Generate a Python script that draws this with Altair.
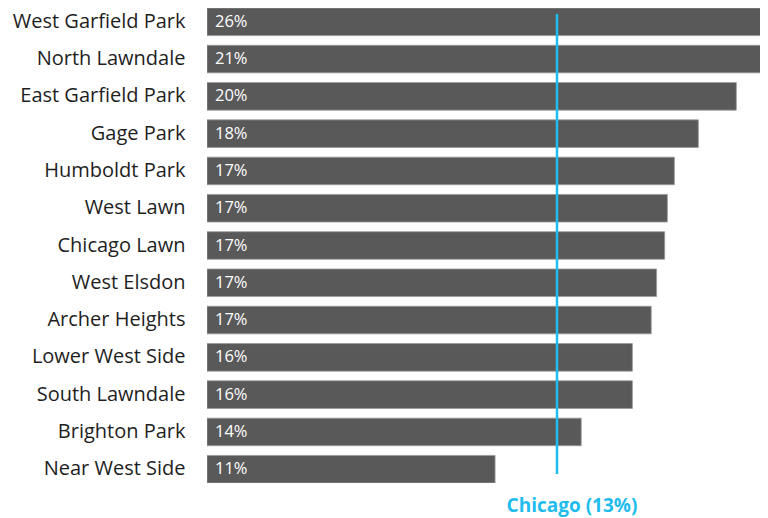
import altair as alt
import pandas as pd

areas = ["West Garfield Park", "North Lawndale", "East Garfield Park", "Gage Park",
         "Humboldt Park", "West Lawn", "Chicago Lawn", "West Elsdon", "Archer Heights",
         "Lower West Side", "South Lawndale", "Brighton Park", "Near West Side"]
values = [26.0, 21.0, 19.66, 18.25, 17.36, 17.1, 17.0, 16.7, 16.5, 15.8, 15.8, 13.9, 10.7]
labels = ["26%", "21%", "20%", "18%", "17%", "17%", "17%", "17%", "17%", "16%", "16%", "14%", "11%"]
chicago_value = 13.0
chicago_label = "Chicago (13%)"

df = pd.DataFrame({"area": areas, "value": values, "label": labels})
ref = pd.DataFrame({"value": [chicago_value], "label": [chicago_label]})

FONT = "Open Sans"
xscale = alt.Scale(domain=[0, 20.54], nice=False, zero=True)
yscale = alt.Scale(domain=areas, paddingInner=0.26, paddingOuter=0.0)

base = alt.Chart(df)
bars = base.mark_bar(color="#595959", stroke="#9a9a9a", strokeWidth=0.8, clip=True).encode(
    x=alt.X("value:Q", scale=xscale, axis=None),
    y=alt.Y("area:N", scale=yscale, sort=areas,
            axis=alt.Axis(title=None, ticks=False, domain=False, labelPadding=22,
                          labelFontSize=20, labelFont=FONT, labelColor="#1e1e1e",
                          labelLimit=300)),
)
text = base.mark_text(align="left", baseline="middle", dx=8, color="#ffffff",
                      fontSize=16.5, font=FONT).encode(
    x=alt.value(0),
    y=alt.Y("area:N", scale=yscale, sort=areas),
    text="label:N",
)
rule = alt.Chart(ref).mark_rule(color="#1fbdee", strokeWidth=2.5).encode(
    x=alt.X("value:Q", scale=xscale),
    y=alt.value(6),
    y2=alt.value(466),
)
reftext = alt.Chart(ref).mark_text(align="center", baseline="alphabetic", dx=15, fontSize=19,
                                   fontWeight="bold", color="#1fbdee", font=FONT).encode(
    x=alt.X("value:Q", scale=xscale),
    y=alt.value(504),
    text="label:N",
)

chart = alt.layer(bars, text, rule, reftext).properties(
    width=553, height=475,
    autosize=alt.AutoSizeParams(type="none"),
    padding={"left": 199, "top": 0, "right": 0, "bottom": 34},
).configure_view(stroke=None)

chart.save("out.html", embed_options={"renderer": "svg", "actions": False})
